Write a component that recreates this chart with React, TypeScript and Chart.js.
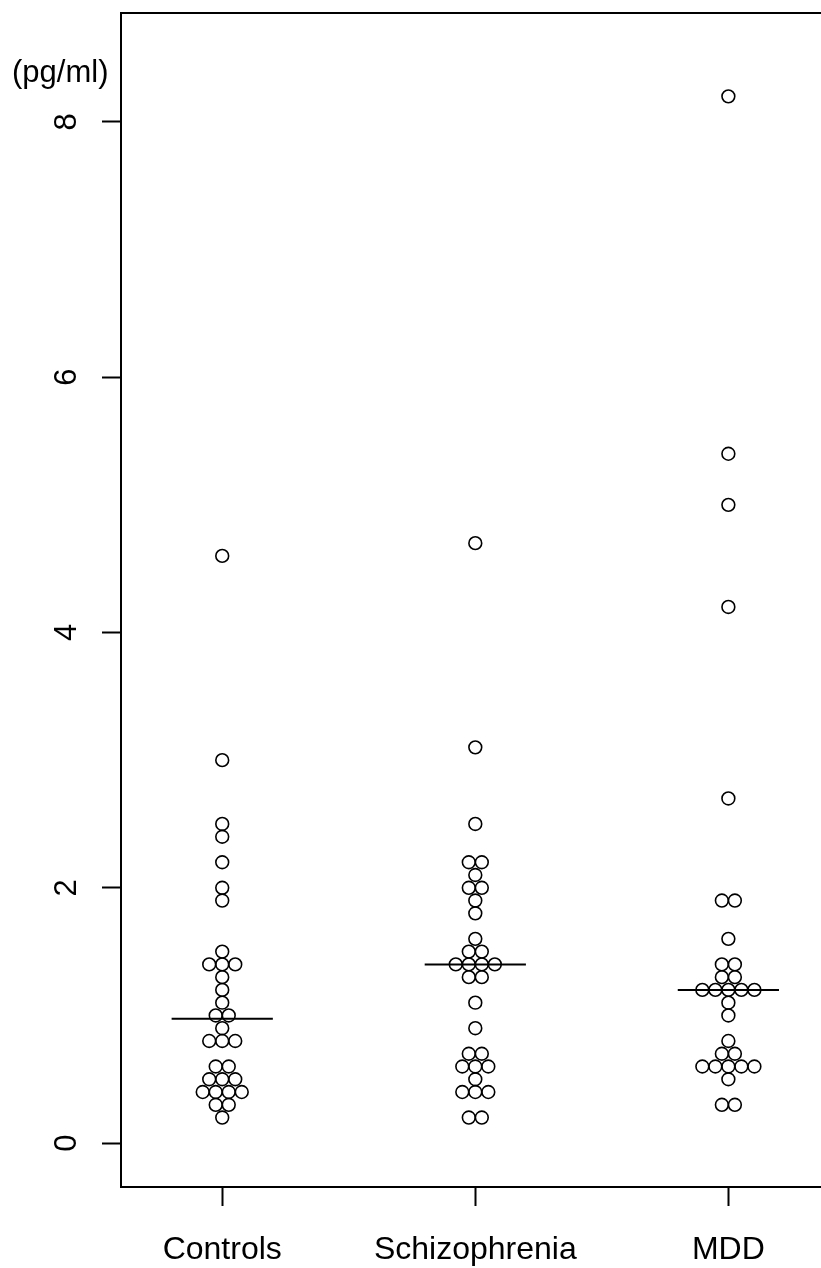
import React, { useEffect, useRef } from "react";
import { Chart, registerables } from "chart.js";

Chart.register(...registerables);

// ---- data ----
const categories = ["Controls", "Schizophrenia", "MDD"];
const controlsValues = [4.6, 3.0, 2.5, 2.4, 2.2, 2.0, 1.9, 1.5, 1.4, 1.4, 1.4, 1.3, 1.2, 1.1, 1.0, 1.0, 0.9, 0.8, 0.8, 0.8, 0.6, 0.6, 0.5, 0.5, 0.5, 0.4, 0.4, 0.4, 0.4, 0.3, 0.3, 0.2];
const schizophreniaValues = [4.7, 3.1, 2.5, 2.2, 2.2, 2.1, 2.0, 2.0, 1.9, 1.8, 1.6, 1.5, 1.5, 1.4, 1.4, 1.4, 1.4, 1.3, 1.3, 1.1, 0.9, 0.7, 0.7, 0.6, 0.6, 0.6, 0.5, 0.4, 0.4, 0.4, 0.2, 0.2];
const mddValues = [8.2, 5.4, 5.0, 4.2, 2.7, 1.9, 1.9, 1.6, 1.4, 1.4, 1.3, 1.3, 1.2, 1.2, 1.2, 1.2, 1.2, 1.1, 1.0, 0.8, 0.7, 0.7, 0.6, 0.6, 0.6, 0.6, 0.6, 0.5, 0.3, 0.3];
const medians = [0.975, 1.4, 1.2];
const yTickValues = [0, 2, 4, 6, 8];
const xTickValues = [1, 2, 3];
const unitLabel = "(pg/ml)";

// ---- style ----
const FONT = '"Liberation Sans", Arial, sans-serif';
const SWARM_STEP = 0.0514; // x units between neighbouring equal-valued dots
const MEDIAN_HALF = 0.2;

function swarm(values: number[], groupX: number) {
  const counts: Record<string, number> = {};
  values.forEach((v) => { counts[v.toFixed(2)] = (counts[v.toFixed(2)] || 0) + 1; });
  const seen: Record<string, number> = {};
  return values.map((v) => {
    const k = v.toFixed(2);
    const n = counts[k];
    const i = seen[k] || 0;
    seen[k] = i + 1;
    return { x: groupX + (i - (n - 1) / 2) * SWARM_STEP, y: v };
  });
}

const unitLabelPlugin = {
  id: "unitLabel",
  afterDraw(chart: any) {
    const ctx = chart.ctx;
    ctx.save();
    ctx.font = `31px ${FONT}`;
    ctx.fillStyle = "#000";
    ctx.textAlign = "left";
    ctx.textBaseline = "alphabetic";
    ctx.fillText(unitLabel, 12, 82);
    ctx.restore();
  },
};

const noPad = (s: any) => {
  s.paddingTop = 0;
  s.paddingBottom = 0;
  s.paddingLeft = 0;
  s.paddingRight = 0;
};

export default function App() {
  const ref = useRef<HTMLCanvasElement>(null);
  useEffect(() => {
    document.body.style.margin = "0";
    document.body.style.overflow = "hidden";
    const groups = [controlsValues, schizophreniaValues, mddValues];
    const pointSets = groups.map((vals, gi) => ({
      type: "scatter" as const,
      data: swarm(vals, gi + 1),
      pointStyle: "circle",
      pointRadius: 6.4,
      pointBorderWidth: 1.6,
      pointBorderColor: "#000",
      pointBackgroundColor: "rgba(0,0,0,0)",
      showLine: false,
    }));
    const medianSets = medians.map((m, gi) => ({
      type: "scatter" as const,
      data: [{ x: gi + 1 - MEDIAN_HALF, y: m }, { x: gi + 1 + MEDIAN_HALF, y: m }],
      showLine: true,
      borderColor: "#000",
      borderWidth: 2,
      pointRadius: 0,
    }));
    const tickFont = { size: 32, family: FONT };
    const chart = new Chart(ref.current!, {
      type: "scatter",
      data: { datasets: [...medianSets, ...pointSets] as any },
      options: {
        animation: false,
        responsive: false,
        devicePixelRatio: 1,
        layout: { padding: 0, autoPadding: false },
        plugins: { legend: { display: false }, tooltip: { enabled: false } },
        scales: {
          x: {
            type: "linear",
            position: "bottom",
            min: 0.6,
            max: 3.366,
            afterBuildTicks: (s: any) => { s.ticks = xTickValues.map((v) => ({ value: v })); },
            afterFit: (s: any) => { s.height = 81; noPad(s); },
            ticks: {
              autoSkip: false,
              maxRotation: 0,
              minRotation: 0,
              padding: 25,
              color: "#000",
              font: tickFont,
              callback: (v: any) => categories[Math.round(v) - 1] ?? "",
            },
            grid: { drawOnChartArea: false, drawTicks: true, tickLength: 19, tickWidth: 2, tickColor: "#000" },
            border: { display: true, color: "#000", width: 2 },
          },
          xTop: {
            type: "linear",
            position: "top",
            min: 0.6,
            max: 3.366,
            afterFit: (s: any) => { s.height = 13; noPad(s); },
            ticks: { display: false },
            grid: { drawOnChartArea: false, drawTicks: false },
            border: { display: true, color: "#000", width: 2 },
          },
          y: {
            type: "linear",
            position: "left",
            min: -0.344,
            max: 8.853,
            afterBuildTicks: (s: any) => { s.ticks = yTickValues.map((v) => ({ value: v })); },
            afterFit: (s: any) => { s.width = 121; noPad(s); },
            ticks: {
              autoSkip: false,
              minRotation: 90,
              maxRotation: 90,
              crossAlign: "center",
              padding: 26,
              color: "#000",
              font: { size: 31, family: FONT },
              callback: (v: any) => String(v),
            },
            grid: { drawOnChartArea: false, drawTicks: true, tickLength: 19, tickWidth: 2, tickColor: "#000" },
            border: { display: true, color: "#000", width: 2 },
          },
        },
      } as any,
      plugins: [unitLabelPlugin],
    });
    return () => chart.destroy();
  }, []);
  return (
    <div style={{ width: 821, height: 1268, background: "#fff" }}>
      <canvas ref={ref} width={821} height={1268} style={{ display: "block" }} />
    </div>
  );
}
